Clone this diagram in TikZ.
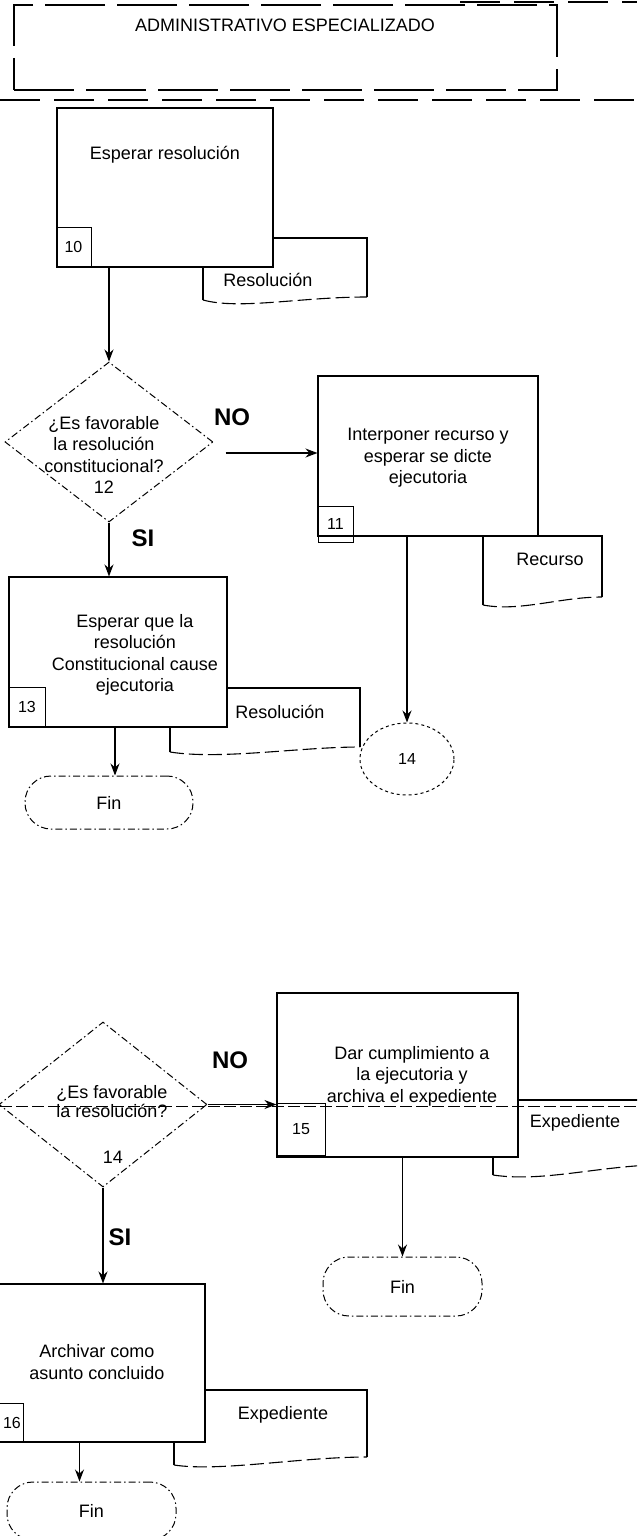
\documentclass[tikz,border=0pt]{standalone}
\usepackage{fontspec}
\setmainfont{Liberation Sans}
\usetikzlibrary{arrows.meta,shapes.geometric}
\begin{document}
\begin{tikzpicture}[x=1pt,y=-1pt,
  box/.style={draw,line width=1.1pt,inner sep=0pt},
  hdrbox/.style={draw,line width=1.1pt,inner sep=0pt,dash pattern=on 60pt off 12pt},
  num/.style={draw,line width=1pt,inner sep=0pt,font=\fontsize{16}{18}\selectfont},
  numt/.style={inner sep=0pt,font=\fontsize{16}{18}\selectfont},
  txt/.style={align=center,inner sep=0pt,font=\fontsize{18}{21.5}\selectfont},
  decision/.style={diamond,draw,dash pattern=on 7pt off 3pt on 1.5pt off 3pt,line width=1pt,inner sep=0pt},
  term/.style={draw,dash pattern=on 7pt off 3pt on 1.5pt off 3pt,line width=1pt,rounded corners=26pt,inner sep=0pt,font=\fontsize{18}{21.5}\selectfont},
  conn/.style={ellipse,draw,dashed,line width=1pt,inner sep=0pt,font=\fontsize{16}{18}\selectfont},
  doc/.style={line width=1.1pt},
  wave/.style={line width=1.1pt,dash pattern=on 14pt off 5pt},
  arr/.style={line width=1.2pt,-{Stealth[length=12pt,width=9pt]}},
  lane/.style={line width=1.2pt,dash pattern=on 40pt off 14pt},
  lbl/.style={inner sep=0pt,font=\bfseries\fontsize{24}{26}\selectfont}]
\useasboundingbox (0,0) rectangle (637,1536);
\clip (0,0) rectangle (637,1536);

% lanes / header
\draw[lane] (460,2) -- (637,2);
\node[hdrbox,minimum width=543pt,minimum height=85pt] (hdr) at (285.5,47.5) {};
\node[txt] (hdrt) at (285,25) {ADMINISTRATIVO ESPECIALIZADO};
\draw[lane] (0,100) -- (637,100);

% 10
\draw[doc] (203,267) -- (203,300);
\draw[wave] (203,300) .. controls (240,310) and (300,297) .. (367,297);
\draw[doc] (367,297) -- (367,238) -- (273,238);
\node[txt] (tdoc10) at (268,280) {Resolución};
\node[box,minimum width=216pt,minimum height=159pt] (b10) at (165,187.5) {};
\node[txt] (t10) at (165,155) {Esperar resolución};
\node[num,minimum width=35pt,minimum height=40pt] (n10) at (73.5,247) {10};

% 12
\node[decision,minimum width=208pt,minimum height=160pt] (d12) at (109,442) {};
\node[txt] (t12) at (104,455) {¿Es favorable\\la resolución\\constitucional?\\12};
\node[lbl] (no1) at (232,417) {NO};
\node[lbl] (si1) at (143,538) {SI};

% 11
\draw[doc] (483,536) -- (483,605);
\draw[wave] (483,605) .. controls (520,612) and (560,597) .. (602,597);
\draw[doc] (602,597) -- (602,536) -- (538,536);
\node[txt] (tdoc11) at (550,559) {Recurso};
\node[box,minimum width=220pt,minimum height=160pt] (b11) at (428,456) {};
\node[txt] (t11) at (428,458) {Interponer recurso y\\esperar se dicte\\ejecutoria};
\node[num,minimum width=35pt,minimum height=36pt] (n11) at (335.5,524) {11};

% 13
\draw[doc] (170,727) -- (170,752);
\draw[wave] (170,752) .. controls (220,760) and (300,747) .. (360,747);
\draw[doc] (360,747) -- (360,688) -- (227,688);
\node[txt] (tdoc13) at (280,712) {Resolución};
\node[box,minimum width=218pt,minimum height=150pt] (b13) at (118,652) {};
\node[txt] (t13) at (135,655) {Esperar que la\\resolución\\Constitucional cause\\ejecutoria};
\node[num,minimum width=36pt,minimum height=40pt] (n13) at (27,707) {13};

% 14 connector
\node[conn,minimum width=94pt,minimum height=72pt] (c14) at (407,759) {14};

% Fin 1
\node[term,minimum width=168pt,minimum height=53pt] (fin1) at (109,802.5) {Fin};

% second part
\draw[line width=1pt,dash pattern=on 12pt off 4pt] (0,1106) -- (637,1106);
\node[decision,minimum width=208pt,minimum height=165pt] (d14) at (103,1104.5) {};
\node[align=center,inner sep=0pt,font=\fontsize{18}{19}\selectfont] (t14) at (112,1102) {¿Es favorable\\la resolución?};
\node[txt] (t14n) at (113,1157) {14};
\node[lbl] (no2) at (230,1060) {NO};
\node[lbl] (si2) at (120,1237) {SI};

% 15
\draw[doc] (493,1157) -- (493,1175);
\draw[wave] (493,1175) .. controls (540,1182) and (590,1168) .. (650,1165);
\draw[doc] (518,1100) -- (650,1100);
\node[txt] (tdoc15) at (575,1123) {Expediente};
\node[box,minimum width=241pt,minimum height=164pt] (b15) at (397.5,1075) {};
\node[txt] (t15) at (412,1076) {Dar cumplimiento a\\la ejecutoria y\\archiva el expediente};
\node[num,minimum width=48pt,minimum height=52pt] (n15) at (301,1129) {15};
\node[term,minimum width=159pt,minimum height=59pt] (fin2) at (402.5,1286.5) {Fin};

% 16
\draw[doc] (174,1442) -- (174,1465);
\draw[wave] (174,1465) .. controls (220,1472) and (300,1457) .. (367,1457);
\draw[doc] (367,1457) -- (367,1390) -- (205,1390);
\node[txt] (tdoc16) at (283,1415) {Expediente};
\node[box,minimum width=225pt,minimum height=158pt] (b16) at (92.5,1363) {};
\node[txt] (t16) at (97,1362) {Archivar como\\asunto concluido};
\node[num,minimum width=38pt,minimum height=39pt] (n16) at (4,1422.5) {};
\node[numt] (n16t) at (12,1422.5) {16};
\node[term,minimum width=169pt,minimum height=58pt] (fin3) at (91.5,1511) {Fin};

% connectors
\draw[arr] (d12.north |- b10.south) -- (d12.north);
\draw[arr] ([xshift=12pt,yshift=-11pt]d12.east) -- ([yshift=-11pt]d12.east -| b11.west);
\draw[arr] (c14.north |- b11.south) -- (c14.north);
\draw[arr] (d12.south) -- (d12.south |- b13.north);
\draw[arr] ([xshift=6pt]fin1.north |- b13.south) -- ([xshift=6pt]fin1.north);
\draw[arr] (d14.east) -- (d14.east -| b15.west);
\draw[arr] (fin2.north |- b15.south) -- (fin2.north);
\draw[arr] (d14.south) -- (d14.south |- b16.north);
\draw[arr] ([xshift=-12pt]fin3.north |- b16.south) -- ([xshift=-12pt]fin3.north);
\end{tikzpicture}
\end{document}
